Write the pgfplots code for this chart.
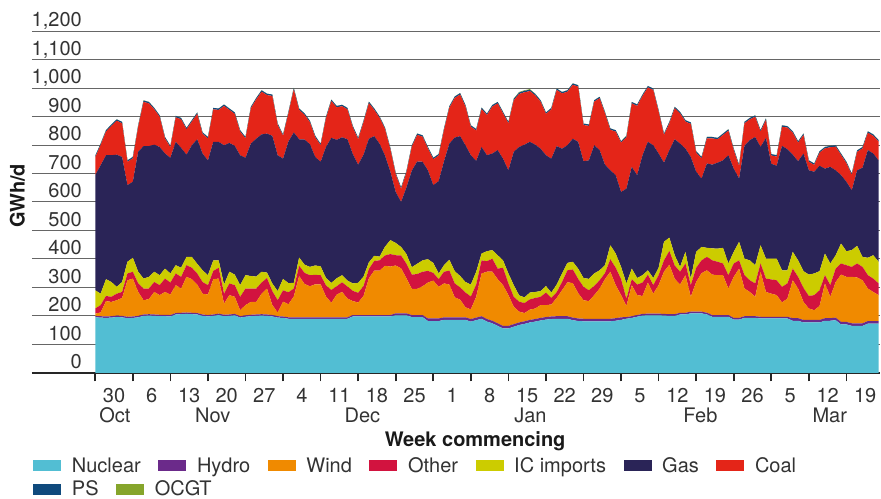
\documentclass[border=0pt]{standalone}
\usepackage{pgfplots}
\usepackage{pgfplotstable}
\pgfplotsset{compat=1.18}
\usepackage{fontspec}
\setmainfont{TeX Gyre Heros}

\definecolor{nuc}{HTML}{52BED3}
\definecolor{hyd}{HTML}{6B2A8A}
\definecolor{wnd}{HTML}{F08A00}
\definecolor{oth}{HTML}{D2133F}
\definecolor{icc}{HTML}{CCCC00}
\definecolor{gasc}{HTML}{2A2457}
\definecolor{coalc}{HTML}{E42518}
\definecolor{psc}{HTML}{0F4A7D}
\definecolor{ocgtc}{HTML}{86A52B}
\definecolor{txt}{HTML}{333333}

\newcommand\fs{\fontsize{20}{24}\selectfont}

\pgfplotstableread{
d nuc hyd wind oth ic gas coal ps ocgt
0 195 5 8 18 64 404 63 5 0
1 194 5 13 26 40 451 71 5 0
2 193 5 54 18 59 435 83 5 0
3 194 5 50 18 52 445 103 5 0
4 196 5 54 23 24 464 119 5 0
5 195 5 63 21 35 439 118 5 0
6 192 5 128 24 41 269 82 5 0
7 193 5 133 24 49 267 82 5 0
8 195 5 84 30 41 421 88 5 0
9 200 5 50 41 35 465 155 5 1
10 201 5 53 37 41 459 150 5 0
11 200 5 79 35 36 446 124 5 0
12 199 5 69 35 35 450 106 5 0
13 199 5 80 47 35 404 53 5 0
14 198 5 72 42 32 406 37 5 0
15 205 5 98 41 29 433 86 5 0
16 206 5 85 41 32 421 100 5 0
17 207 5 125 41 29 359 89 5 0
18 206 5 118 40 38 392 83 5 0
19 205 5 100 39 34 437 89 5 0
20 200 5 73 41 41 410 69 5 0
21 198 5 72 33 35 403 77 5 0
22 200 5 124 29 37 416 114 5 0
23 203 5 123 38 26 416 112 5 0
24 199 5 39 35 32 489 138 5 0
25 200 5 68 41 41 452 116 5 0
26 202 5 60 41 37 452 112 5 0
27 194 5 21 47 41 456 83 5 0
28 197 5 36 58 47 412 68 5 0
29 199 5 45 47 44 465 124 5 0
30 200 5 44 47 42 484 138 5 0
31 201 5 72 39 38 482 150 5 0
32 200 5 91 37 19 488 135 5 0
33 198 5 35 49 27 518 140 5 0
34 194 5 13 43 32 477 106 5 0
35 193 5 52 40 40 422 80 5 0
36 190 5 46 42 32 497 99 5 0
37 190 5 73 28 20 528 151 5 0
38 190 5 145 36 29 415 103 5 0
39 190 5 117 39 29 439 87 5 0
40 190 5 109 39 29 431 77 5 0
41 190 5 116 33 33 381 69 5 0
42 190 5 116 32 31 367 58 5 0
43 190 5 73 39 26 460 101 5 0
44 190 5 51 45 25 509 129 5 0
45 190 5 80 29 28 486 114 5 0
46 190 5 89 34 25 484 109 5 0
47 190 5 66 42 21 496 105 5 0
48 198 5 49 36 26 454 94 5 0
49 198 5 44 34 35 415 89 5 0
50 198 5 67 35 33 428 114 5 0
51 198 5 129 33 23 434 125 5 0
52 198 5 156 34 18 420 92 5 0
53 198 5 156 36 13 396 91 5 0
54 198 5 173 36 31 320 93 5 0
55 198 5 170 44 49 240 79 5 0
56 202 7 168 36 43 179 62 5 0
57 202 7 158 45 30 158 46 5 0
58 202 7 123 51 34 234 53 5 0
59 196 7 92 50 26 339 84 5 0
60 196 7 92 52 36 359 93 5 0
61 196 7 101 51 40 346 88 5 0
62 182 9 126 41 41 312 77 5 0
63 182 9 133 27 35 273 91 5 0
64 182 9 111 27 20 324 90 5 0
65 186 9 119 41 23 365 110 5 0
66 186 9 115 49 38 408 126 5 0
67 186 9 70 49 43 469 139 5 0
68 186 9 62 43 40 491 146 5 0
69 186 9 35 52 37 480 136 5 0
70 180 9 34 45 42 454 100 5 0
71 185 9 73 43 45 389 107 5 0
72 190 9 150 46 24 374 133 5 0
73 180 9 166 37 35 337 141 5 0
74 174 9 172 46 30 339 165 5 0
75 165 9 155 37 47 369 164 5 0
76 156 9 143 61 26 357 159 5 0
77 156 9 108 41 35 362 165 5 0
78 162 9 61 35 41 468 181 5 1
79 168 9 38 35 22 521 186 5 2
80 172 9 29 35 20 536 184 5 2
81 177 9 36 36 24 529 178 5 2
82 180 9 37 37 21 517 173 5 1
83 184 9 45 29 20 500 165 5 0
84 187 9 42 44 23 459 145 5 0
85 189 9 42 23 19 470 173 5 0
86 190 9 64 20 27 486 197 5 0
87 190 9 91 29 30 438 194 5 0
88 190 9 119 42 26 413 188 5 0
89 185 9 121 48 27 432 189 5 0
90 182 9 89 50 36 445 194 5 0
91 181 9 65 47 31 410 127 5 0
92 181 9 62 38 40 416 121 5 0
93 181 9 83 32 44 450 153 5 0
94 181 9 106 29 35 422 182 5 0
95 181 9 139 21 28 353 180 5 0
96 181 9 165 44 49 263 142 5 0
97 183 9 116 61 50 275 153 5 0
98 186 9 78 56 43 263 173 5 0
99 190 6 39 25 54 333 180 5 1
100 193 6 109 21 37 357 223 5 0
101 197 6 70 37 23 361 243 5 0
102 201 6 63 47 26 421 208 5 0
103 202 6 109 28 15 451 191 5 0
104 202 6 70 30 25 466 194 5 0
105 202 6 100 35 26 401 147 5 0
106 201 6 148 40 65 278 97 5 0
107 200 6 174 48 47 307 94 5 0
108 200 6 124 47 36 407 109 5 0
109 205 6 99 45 17 433 106 5 0
110 205 6 132 41 41 362 95 5 0
111 209 6 52 41 23 427 116 5 0
112 209 6 104 50 56 281 67 5 0
113 209 6 135 45 47 240 71 5 0
114 205 6 149 47 32 296 88 5 0
115 197 6 142 50 42 294 92 5 0
116 197 6 140 47 46 302 82 5 0
117 197 6 140 41 55 307 89 5 0
118 197 6 93 47 41 380 86 5 0
119 187 6 144 47 41 292 65 5 0
120 187 6 173 29 65 222 44 5 0
121 193 6 97 47 58 396 79 5 0
122 193 6 85 41 70 422 73 5 0
123 193 6 68 47 64 450 71 5 0
124 191 6 158 29 64 345 54 5 0
125 191 6 87 47 70 424 63 5 0
126 191 6 81 50 73 333 29 5 0
127 191 6 76 52 76 326 32 5 0
128 191 6 50 55 58 437 67 5 0
129 191 6 64 53 46 425 76 5 0
130 183 9 133 41 59 341 77 5 0
131 183 9 104 41 58 348 65 5 0
132 177 9 63 49 59 413 65 5 0
133 177 9 40 44 75 366 30 5 0
134 177 9 34 53 76 357 24 5 0
135 177 9 49 55 67 370 46 5 0
136 183 9 122 29 76 298 71 5 0
137 183 9 75 41 76 339 69 5 0
138 185 9 125 47 47 298 83 5 0
139 170 9 166 39 70 240 71 5 0
140 170 9 158 41 49 244 65 5 0
141 165 9 163 35 59 210 54 5 0
142 165 9 161 49 62 265 65 5 0
143 165 9 151 47 35 313 68 5 0
144 173 9 114 47 61 378 61 5 0
145 173 9 102 47 82 357 62 5 0
146 173 9 91 41 76 356 66 5 0
}\gen

\pgfplotsset{
  mylegend/.style={
    legend cell align=left,
    legend image code/.code={\fill[##1] (0pt,-5.5pt) rectangle (28pt,5.5pt);},
    legend style={draw=none, fill=none, inner sep=0pt, outer sep=0pt,
      nodes={inner sep=0pt, text=txt},
      /tikz/every odd column/.append style={column sep=10.7pt},
      /tikz/every even column/.append style={column sep=17.5pt}},
  },
}

\begin{document}
\begin{tikzpicture}[font=\fs]
\path (0,0) rectangle (881pt,-499pt);
\begin{axis}[
  at={(31.97pt,-373pt)}, anchor=south west,
  scale only axis, width=848.5pt, height=342pt,
  xmin=-11.8, xmax=146.3, ymin=0, ymax=1200,
  clip mode=individual,
  stack plots=y,
  axis x line*=bottom, axis y line*=left,
  y axis line style={draw=none},
  x axis line style={line width=1.6pt, black!85},
  ytick={0,100,...,1200},
  ymajorgrids,
  major grid style={line width=0.9pt, black!60},
  ytick style={draw=none},
  xtick={3.5,10.5,...,143.5},
  xticklabels={30,6,13,20,27,4,11,18,25,1,8,15,22,29,5,12,19,26,5,12,19},
  major tick length=0pt,
  minor xtick={0,7,...,140},
  minor tick length=8.5pt,
  tick align=outside,
  minor x tick style={line width=1.6pt, black!85},
  /pgf/number format/assume math mode=true,
  /pgf/number format/1000 sep={,},
  xticklabel style={anchor=base, yshift=-30pt, inner sep=0pt, text=txt},
  yticklabel style={anchor=base east, xshift=50pt, yshift=4.3pt, inner sep=0pt, text=txt},
  ylabel={\bfseries GWh/d},
  ylabel style={at={(axis description cs:-0.008,0.5175)}, anchor=south, inner sep=0pt, text=black!90},
  xlabel={\bfseries Week commencing},
  xlabel style={at={(axis description cs:0.5225,0)}, anchor=base, yshift=-73.7pt, inner sep=0pt, text=black!90},
  mylegend,
  legend columns=7,
  legend style={at={(axis description cs:0,0)}, anchor=north west, xshift=1.3pt, yshift=-84.5pt},
]
\addplot[fill=nuc, draw=none] table[x=d, y=nuc] {\gen} \closedcycle;
\addlegendentry{Nuclear}
\addplot[fill=hyd, draw=none] table[x=d, y=hyd] {\gen} \closedcycle;
\addlegendentry{Hydro}
\addplot[fill=wnd, draw=none] table[x=d, y=wind] {\gen} \closedcycle;
\addlegendentry{Wind}
\addplot[fill=oth, draw=none] table[x=d, y=oth] {\gen} \closedcycle;
\addlegendentry{Other}
\addplot[fill=icc, draw=none] table[x=d, y=ic] {\gen} \closedcycle;
\addlegendentry{IC imports}
\addplot[fill=gasc, draw=none] table[x=d, y=gas] {\gen} \closedcycle;
\addlegendentry{Gas}
\addplot[fill=coalc, draw=none] table[x=d, y=coal] {\gen} \closedcycle;
\addlegendentry{Coal}
\addplot[fill=psc, draw=none] table[x=d, y=ps] {\gen} \closedcycle;
\addplot[fill=ocgtc, draw=none] table[x=d, y=ocgt] {\gen} \closedcycle;

\node[anchor=base, text=txt, yshift=-50pt] at (axis cs:3.66,0) {Oct};
\node[anchor=base, text=txt, yshift=-50pt] at (axis cs:21.9,0) {Nov};
\node[anchor=base, text=txt, yshift=-50pt] at (axis cs:49.8,0) {Dec};
\node[anchor=base, text=txt, yshift=-50pt] at (axis cs:81.1,0) {Jan};
\node[anchor=base, text=txt, yshift=-50pt] at (axis cs:112.8,0) {Feb};
\node[anchor=base, text=txt, yshift=-50pt] at (axis cs:136.9,0) {Mar};
\end{axis}
\begin{axis}[
  at={(31.97pt,-373pt)}, anchor=south west,
  scale only axis, width=848.5pt, height=342pt,
  hide axis, xmin=0, xmax=1, ymin=0, ymax=1,
  mylegend,
  legend columns=2,
  legend style={at={(axis description cs:0,0)}, anchor=north west, xshift=1.3pt, yshift=-108pt},
]
\addlegendimage{fill=psc, draw=none}
\addlegendentry{PS}
\addlegendimage{fill=ocgtc, draw=none}
\addlegendentry{OCGT}
\end{axis}
\end{tikzpicture}
\end{document}
